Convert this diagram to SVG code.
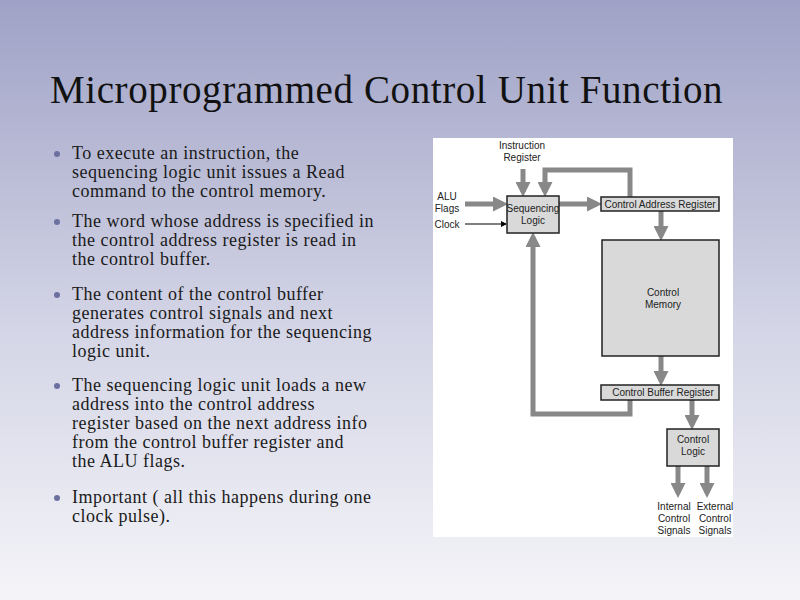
<svg xmlns="http://www.w3.org/2000/svg" width="800" height="600" viewBox="0 0 800 600">
<defs>
<linearGradient id="bg" x1="0" y1="0" x2="0" y2="1">
<stop offset="0" stop-color="#9fa2c6"/><stop offset="0.55" stop-color="#d4d5e6"/><stop offset="1" stop-color="#f4f4f8"/>
</linearGradient>
<marker id="ah" markerWidth="3" markerHeight="3" refX="2" refY="1.5" orient="auto" markerUnits="strokeWidth"><path d="M0,0L3,1.5L0,3z" fill="#888"/></marker>
<marker id="th" markerWidth="6" markerHeight="6" refX="5" refY="3" orient="auto" markerUnits="userSpaceOnUse"><path d="M0,0L6,3L0,6z" fill="#000"/></marker>
<style>
.b{fill:#d9d9d9;stroke:#222;stroke-width:1.5}
.t{font-family:"Liberation Sans",Arial,sans-serif;font-size:10px;fill:#222;text-anchor:middle}
.c{fill:none;stroke:#888;stroke-width:5;marker-end:url(#ah)}
.p{font-family:"Liberation Serif",serif;font-size:18px;letter-spacing:0.5px;fill:#1a1a1a}
.d{fill:#6c70a0}
</style>
</defs>
<rect width="800" height="600" fill="url(#bg)"/>
<text x="50" y="103" font-family="Liberation Serif,serif" font-size="39" letter-spacing="0.6" fill="#111">Microprogrammed Control Unit Function</text>
<g id="bullets">
<circle class="d" cx="57" cy="154" r="3"/><circle class="d" cx="57" cy="222" r="3"/><circle class="d" cx="57" cy="295" r="3"/><circle class="d" cx="57" cy="386" r="3"/><circle class="d" cx="57" cy="498" r="3"/>
<text class="p" x="72" y="159">To execute an instruction, the</text>
<text class="p" x="72" y="178">sequencing logic unit issues a Read</text>
<text class="p" x="72" y="197">command to the control memory.</text>
<text class="p" x="72" y="227">The word whose address is specified in</text>
<text class="p" x="72" y="246">the control address register is read in</text>
<text class="p" x="72" y="265">the control buffer.</text>
<text class="p" x="72" y="300">The content of the control buffer</text>
<text class="p" x="72" y="319">generates control signals and next</text>
<text class="p" x="72" y="338">address information for the sequencing</text>
<text class="p" x="72" y="357">logic unit.</text>
<text class="p" x="72" y="391">The sequencing logic unit loads a new</text>
<text class="p" x="72" y="410">address into the control address</text>
<text class="p" x="72" y="429">register based on the next address info</text>
<text class="p" x="72" y="448">from the control buffer register and</text>
<text class="p" x="72" y="467">the ALU flags.</text>
<text class="p" x="72" y="503">Important ( all this happens during one</text>
<text class="p" x="72" y="522">clock pulse).</text>
</g>
<rect x="433" y="138" width="300" height="399" fill="#fff"/>
<g id="connectors">
<path class="c" d="M523,169V192"/>
<path class="c" d="M630,197V170H545V192"/>
<path class="c" d="M465,204H503"/>
<path d="M465,224H506" stroke="#000" stroke-width="1.2" marker-end="url(#th)"/>
<path class="c" d="M559,204H597"/>
<path class="c" d="M661,211V236"/>
<path class="c" d="M661,356V381"/>
<path class="c" d="M630,400V414H533V237"/>
<path class="c" d="M692,400V425"/>
<path class="c" d="M678,466V493"/>
<path class="c" d="M707,466V493"/>
</g>
<g id="seq"><rect class="b" x="507" y="196" width="52" height="37"/><text class="t" x="533" y="212">Sequencing</text><text class="t" x="533" y="224">Logic</text></g>
<g id="car"><rect class="b" x="601" y="197" width="118" height="14"/><text class="t" x="660" y="207.5">Control Address Register</text></g>
<g id="cm"><rect class="b" x="602" y="240" width="117" height="116"/><text class="t" x="663" y="296">Control</text><text class="t" x="663" y="308">Memory</text></g>
<g id="cbr"><rect class="b" x="601" y="385" width="118" height="15"/><text class="t" x="663" y="396">Control Buffer Register</text></g>
<g id="cl"><rect class="b" x="667" y="429" width="52" height="37"/><text class="t" x="693" y="443">Control</text><text class="t" x="693" y="455">Logic</text></g>
<g id="labels">
<text class="t" x="522" y="149">Instruction</text><text class="t" x="522" y="161">Register</text>
<text class="t" x="447" y="200">ALU</text><text class="t" x="447" y="212">Flags</text><text class="t" x="447" y="228">Clock</text>
<text class="t" x="674" y="510">Internal</text><text class="t" x="674" y="522">Control</text><text class="t" x="674" y="534">Signals</text>
<text class="t" x="715" y="510">External</text><text class="t" x="715" y="522">Control</text><text class="t" x="715" y="534">Signals</text>
</g>
</svg>
